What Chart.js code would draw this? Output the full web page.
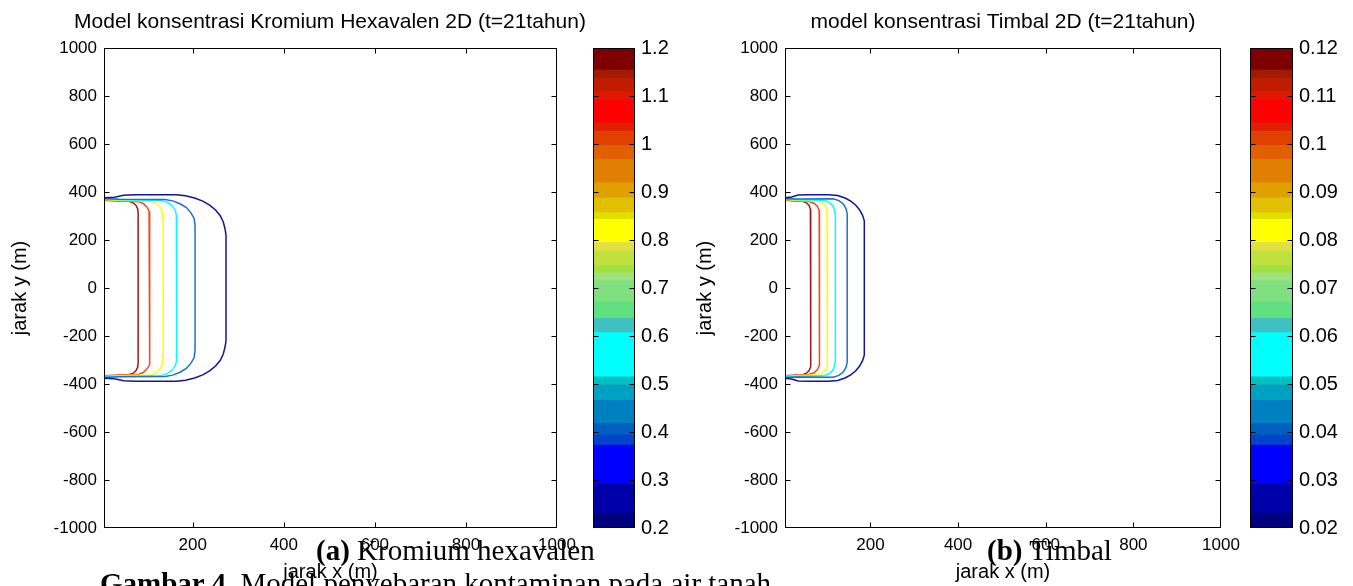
<!DOCTYPE html>
<html lang="id">
<head>
<meta charset="utf-8">
<title>Model konsentrasi 2D</title>
<script src="https://cdn.jsdelivr.net/npm/chart.js"></script>
<style>
  body { margin: 0; background: #fff; }
  #page { position: relative; width: 1353px; height: 586px; overflow: hidden; background: #fff; }
  canvas { position: absolute; top: 0; }
  .cap { position: absolute; font-family: "Liberation Serif", "Times New Roman", serif; font-size: 29px; line-height: 29px; color: #000; white-space: nowrap; }
</style>
</head>
<body>
<div id="page">
  <canvas id="crChart" width="660" height="586" style="left:0px"></canvas>
  <canvas id="crBar" width="90" height="586" style="left:593px"></canvas>
  <canvas id="pbChart" width="644" height="586" style="left:681px"></canvas>
  <canvas id="pbBar" width="100" height="586" style="left:1250px"></canvas>
  <div class="cap" style="left:316px; top:536px"><b>(a)</b> Kromium hexavalen</div>
  <div class="cap" style="left:987px; top:536px"><b>(b)</b> Timbal</div>
  <div class="cap" style="left:100px; top:569px"><b>Gambar 4.</b> Model penyebaran kontaminan pada air tanah</div>
</div>
<script>
// axis ticks
const xTicks = [200, 400, 600, 800, 1000];
const yTicks = [-1000, -800, -600, -400, -200, 0, 200, 400, 600, 800, 1000];
const crBarTicks = [0.2, 0.3, 0.4, 0.5, 0.6, 0.7, 0.8, 0.9, 1, 1.1, 1.2];
const pbBarTicks = [0.02, 0.03, 0.04, 0.05, 0.06, 0.07, 0.08, 0.09, 0.1, 0.11, 0.12];

// colorbar band edges (bottom to top)
const crBands = [0.2, 0.231, 0.293, 0.373, 0.394, 0.418, 0.466, 0.499, 0.515, 0.607, 0.637, 0.670, 0.715, 0.731, 0.746,
  0.777, 0.795, 0.843, 0.857, 0.888, 0.919, 0.968, 0.997, 1.026, 1.044, 1.092, 1.109, 1.137, 1.154, 1.2];
const pbBands = [0.02, 0.0231, 0.0293, 0.0373, 0.0394, 0.0418, 0.0466, 0.0499, 0.0515, 0.0607, 0.0637, 0.0670, 0.0715, 0.0731, 0.0746,
  0.0777, 0.0795, 0.0843, 0.0857, 0.0888, 0.0919, 0.0968, 0.0997, 0.1026, 0.1044, 0.1092, 0.1109, 0.1137, 0.1154, 0.12];
const bandColors = ['#00007f', '#0000aa', '#0000ff', '#0044cc', '#0060c0', '#0080c0', '#00a0c0', '#00c0c0', '#00ffff',
  '#40c0c0', '#60e080', '#80e080', '#a0e080', '#a0e040', '#c0e040', '#e0e040', '#ffff00', '#e0e000', '#e0c000',
  '#e0a000', '#e08000', '#e06000', '#e04000', '#e02000', '#ff0000', '#e01800', '#c01c00', '#a01c00', '#7f0000'];

// contour lines, Kromium hexavalen (outer -> inner)
const crNavy = [[5,376],[28,378],[48,386],[74,389],[164,389],[184,384],[204,375],[222,362],[237,345],[250,325],[260,302],[267,275],[271,245],[273,220],
  [273,-220],[271,-245],[267,-275],[260,-302],[250,-325],[237,-345],[222,-362],[204,-375],[184,-384],[164,-389],[74,-389],[48,-386],[28,-378],[5,-376]];
const crBlue = [[5,373],[38,370],[139,369],[156,363],[172,351],[186,335],[196,313],[203,290],[205,260],[205,235],
  [205,-235],[205,-260],[203,-290],[196,-313],[186,-335],[172,-351],[156,-363],[139,-369],[38,-370],[5,-373]];
const crCyan = [[5,371],[44,368],[132,365],[146,355],[156,340],[162,322],[164,300],[165,275],
  [165,-275],[164,-300],[162,-322],[156,-340],[146,-355],[132,-365],[44,-368],[5,-371]];
const crYellow = [[5,369],[44,365],[107,362],[119,354],[127,341],[132,322],[134,300],[135,280],
  [135,-280],[134,-300],[132,-322],[127,-341],[119,-354],[107,-362],[44,-365],[5,-369]];
const crOrange = [[5,367],[44,363],[82,359],[92,351],[99,338],[104,320],[106,298],
  [106,-298],[104,-320],[99,-338],[92,-351],[82,-359],[44,-363],[5,-367]];
const crRed = [[5,366],[34,364],[59,361],[69,355],[75,345],[79,330],[80,310],
  [80,-310],[79,-330],[75,-345],[69,-355],[59,-361],[34,-364],[5,-366]];

// contour lines, Timbal (outer -> inner)
const pbNavy = [[5,376],[20,379],[35,387],[60,389],[105,389],[125,385],[142,375],[155,362],[166,346],[175,326],[182,303],[186,280],
  [186,-280],[182,-303],[175,-326],[166,-346],[155,-362],[142,-375],[125,-385],[105,-389],[60,-389],[35,-387],[20,-379],[5,-376]];
const pbBlue = [[5,373],[30,371],[115,372],[128,364],[138,350],[144,332],[147,310],[147,285],
  [147,-285],[147,-310],[144,-332],[138,-350],[128,-364],[115,-372],[30,-371],[5,-373]];
const pbCyan = [[5,371],[35,368],[93,366],[106,357],[114,343],[118,325],[120,300],
  [120,-300],[118,-325],[114,-343],[106,-357],[93,-366],[35,-368],[5,-371]];
const pbYellow = [[5,369],[35,365],[78,363],[90,355],[97,342],[101,325],[102,305],
  [102,-305],[101,-325],[97,-342],[90,-355],[78,-363],[35,-365],[5,-369]];
const pbOrange = [[5,367],[35,363],[60,360],[72,352],[79,340],[83,322],[84,300],
  [84,-300],[83,-322],[79,-340],[72,-352],[60,-360],[35,-363],[5,-367]];
const pbRed = [[5,366],[25,364],[45,361],[54,355],[60,344],[63,328],[64,310],
  [64,-310],[63,-328],[60,-344],[54,-355],[45,-361],[25,-364],[5,-366]];

const lineColors = ['#141496', '#1e6fd4', '#00ffff', '#ffff00', '#f04a1a', '#9a1a1a'];

const FONT = "'Liberation Sans', Arial, Helvetica, sans-serif";
Chart.defaults.font.family = FONT;
Chart.defaults.color = '#000';

// box round the axes with short inward ticks, like matlab
const boxTicks = {
  id: 'boxTicks',
  afterDatasetsDraw(chart) {
    const {ctx, chartArea: a} = chart;
    const len = 5;
    const L = Math.round(a.left) + 0.5, R = Math.round(a.right) - 0.5;
    const T = Math.round(a.top) + 0.5, B = Math.round(a.bottom) - 0.5;
    ctx.save();
    ctx.strokeStyle = '#000';
    ctx.lineWidth = 1;
    ctx.beginPath();
    for (const id of ['x', 'y']) {
      const s = chart.scales[id];
      if (!s || !s.options.display) continue;
      for (const t of s.ticks) {
        const p = Math.round(s.getPixelForValue(t.value)) + 0.5;
        if (s.isHorizontal()) {
          if (p <= L + 1 || p >= R - 1) continue;
          ctx.moveTo(p, T); ctx.lineTo(p, T + len);
          ctx.moveTo(p, B); ctx.lineTo(p, B - len);
        } else {
          if (p <= T + 1 || p >= B - 1) continue;
          ctx.moveTo(L, p); ctx.lineTo(L + len, p);
          ctx.moveTo(R, p); ctx.lineTo(R - len, p);
        }
      }
    }
    ctx.stroke();
    ctx.strokeRect(L, T, R - L, B - T);
    ctx.restore();
  }
};

function lineSet(points, color) {
  return {
    data: points.map(p => ({x: p[0], y: p[1]})),
    borderColor: color,
    borderWidth: 1.5,
    pointRadius: 0,
    showLine: true,
    fill: false,
    tension: 0
  };
}

// rightGap: empty space right of the plot, so the title centres on the axes
function contourChart(id, title, lines, yTitlePad, rightGap) {
  return new Chart(document.getElementById(id), {
    type: 'scatter',
    data: { datasets: lines.map((l, i) => lineSet(l, lineColors[i])) },
    options: {
      responsive: false,
      animation: false,
      layout: { padding: 0 },
      plugins: {
        legend: { display: false },
        tooltip: { enabled: false },
        title: {
          display: true,
          text: title,
          color: '#000',
          font: { size: 21, weight: 'normal' },
          padding: { top: 9.4, bottom: 13.4 }
        }
      },
      scales: {
        x: {
          type: 'linear', min: 5, max: 1000,
          afterBuildTicks: s => { s.ticks = xTicks.map(v => ({value: v})); },
          afterFit: s => { s.height = 58; },
          grid: { display: false, drawTicks: false },
          border: { display: false },
          ticks: { font: { size: 17 }, padding: 7, color: '#000', maxRotation: 0, callback: v => String(v) },
          title: { display: true, text: 'jarak x (m)', font: { size: 20 }, color: '#000', padding: { top: 0, bottom: 2 } }
        },
        y: {
          type: 'linear', min: -1000, max: 1000,
          afterBuildTicks: s => { s.ticks = yTicks.map(v => ({value: v})); },
          afterFit: s => { s.width = 104; },
          grid: { display: false, drawTicks: false },
          border: { display: false },
          ticks: { font: { size: 17 }, padding: 7, color: '#000', callback: v => String(v) },
          title: { display: true, text: 'jarak y (m)', font: { size: 20 }, color: '#000', padding: { top: yTitlePad, bottom: 0 } }
        },
        gap: {
          type: 'linear', position: 'right',
          afterFit: s => { s.width = rightGap; },
          grid: { display: false, drawTicks: false },
          border: { display: false },
          ticks: { display: false }
        }
      }
    },
    plugins: [boxTicks]
  });
}

function colorBar(id, bands, ticks, axisWidth) {
  const sets = [];
  for (let i = 0; i < bands.length - 1; i++) {
    sets.push({
      data: [[bands[i], bands[i + 1]]],
      backgroundColor: bandColors[i],
      borderWidth: 0,
      barPercentage: 1,
      categoryPercentage: 1,
      grouped: false
    });
  }
  return new Chart(document.getElementById(id), {
    type: 'bar',
    data: { labels: [''], datasets: sets },
    options: {
      responsive: false,
      animation: false,
      layout: { padding: { left: 0, right: 0, top: 48, bottom: 58 } },
      plugins: { legend: { display: false }, tooltip: { enabled: false } },
      scales: {
        x: { display: false, stacked: true },
        y: {
          position: 'right',
          stacked: false,
          min: bands[0], max: bands[bands.length - 1],
          afterBuildTicks: s => { s.ticks = ticks.map(v => ({value: v})); },
          afterFit: s => { s.width = axisWidth; },
          grid: { display: false, drawTicks: false },
          border: { display: false },
          ticks: { font: { size: 20 }, padding: 6, color: '#000', callback: v => String(v) }
        }
      }
    },
    plugins: [boxTicks]
  });
}

contourChart('crChart', 'Model konsentrasi Kromium Hexavalen 2D (t=21tahun)',
  [crNavy, crBlue, crCyan, crYellow, crOrange, crRed], 8, 103);
contourChart('pbChart', 'model konsentrasi Timbal 2D (t=21tahun)',
  [pbNavy, pbBlue, pbCyan, pbYellow, pbOrange, pbRed], 12, 104);
colorBar('crBar', crBands, crBarTicks, 48);
colorBar('pbBar', pbBands, pbBarTicks, 57);
</script>
</body>
</html>
